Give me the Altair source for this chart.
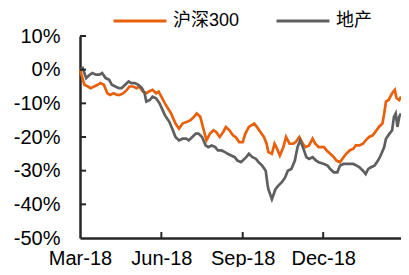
import altair as alt
import pandas as pd

# Days since 2018-03-01 and cumulative returns (%)
hs300_days = [0, 5, 9, 12, 16, 20, 23, 27, 31, 34, 38, 42, 45, 49, 53, 56, 60, 64, 67, 71,
              75, 78, 82, 86, 89, 96, 103, 108, 112, 116, 121, 125, 129, 132, 136, 140, 143,
              147, 151, 154, 158, 162, 165, 169, 173, 176, 180, 184, 187, 191, 197, 200, 204,
              208, 211, 213, 217, 220, 222, 226, 230, 233, 237, 241, 244, 248, 252, 255, 259,
              263, 266, 270, 276, 279, 283, 287, 290, 294, 298, 301, 305, 309, 312, 316, 320,
              323, 327, 331, 334, 338, 342, 344, 346, 349, 353, 356, 358, 361, 363]
hs300_vals = [0, -4.5, -5, -5.5, -5, -4.5, -4, -4.5, -7, -7.5, -7, -7.5, -7.5, -7, -6, -5, -5,
              -5.5, -5, -6.5, -7, -6.5, -6, -7, -6.5, -10, -13, -16, -17.5, -16, -15.5, -15,
              -14, -13, -14, -18, -21, -19, -18, -18.5, -20, -18.5, -17, -18, -19.5, -20,
              -21.5, -21.5, -19, -17, -16, -17, -18.5, -20, -22, -24.5, -25, -22, -23, -25.5,
              -23, -20, -22, -22, -21.5, -20, -22, -23, -22.5, -20.5, -22, -23, -23, -24, -25,
              -26, -27, -27.5, -26, -25, -24, -23.5, -22.5, -22.5, -22, -21, -20, -19.5, -18.5,
              -17, -16, -13, -9.5, -9, -7, -6, -8.5, -9, -8]

dc_days = [0, 3, 7, 11, 14, 18, 22, 25, 29, 33, 36, 40, 44, 47, 51, 55, 58, 62, 66, 70, 73,
           75, 79, 82, 86, 90, 96, 101, 105, 108, 112, 116, 120, 123, 127, 131, 134, 138, 142,
           145, 149, 153, 156, 160, 164, 167, 171, 175, 178, 182, 188, 191, 195, 199, 202, 206,
           210, 212, 213, 217, 219, 221, 224, 228, 232, 235, 239, 243, 246, 249, 252, 256, 259,
           263, 267, 270, 276, 280, 283, 287, 291, 294, 298, 302, 305, 309, 313, 316, 320, 323,
           326, 329, 333, 337, 340, 344, 346, 350, 353, 355, 357, 359, 361, 363]
dc_vals = [0, 0.5, -2.5, -1.5, -1, -1.5, -1.5, -1, -2.5, -3, -4.5, -5, -5.5, -5.5, -4.5, -3.5,
           -4, -4, -4.5, -5.5, -7, -9.5, -9, -8, -8.5, -10, -13.5, -15.5, -18, -20, -21, -20.5,
           -20.5, -21, -20, -19, -19, -20, -22.5, -23, -22.5, -23, -24, -24, -24.5, -25, -25.5,
           -26, -27, -27.5, -26, -25, -26, -26.5, -27.5, -28.5, -30, -34, -35.5, -38.5, -37,
           -35.5, -34.5, -33.5, -32, -30, -29.5, -27, -23, -21, -23, -26, -26.5, -26, -27,
           -27.5, -28, -28.5, -29.5, -30.5, -30.5, -28.5, -28, -28, -28, -28, -28.5, -29, -30,
           -31, -29.5, -29, -28.5, -27, -25.5, -23, -20.5, -19, -18, -14, -13, -17, -14, -13]

series_names = ["沪深300", "地产"]
series_colors = ["#E8600C", "#5F5F5F"]
y_ticks = [10, 0, -10, -20, -30, -40, -50]
x_tick_dates = ["2018-06-01", "2018-09-01", "2018-12-01"]

start = pd.Timestamp("2018-03-01")
frames = []
for name, days, vals in [(series_names[0], hs300_days, hs300_vals),
                         (series_names[1], dc_days, dc_vals)]:
    frames.append(pd.DataFrame({
        "date": [start + pd.Timedelta(days=d) for d in days],
        "value": vals,
        "series": name,
    }))
df = pd.concat(frames, ignore_index=True)

yt = pd.DataFrame({"v": [v for v in y_ticks if v > -50]})
xt = pd.DataFrame({"d": pd.to_datetime(x_tick_dates)})

FONT = "Liberation Sans, Arial, Noto Sans CJK SC"
W = 321
H = 202

x_scale = alt.Scale(domain=[alt.DateTime(year=2018, month=3, date=1),
                            alt.DateTime(year=2019, month=2, date=27)], nice=False)
y_scale = alt.Scale(domain=[-50, 10], nice=False)

x_axis = alt.Axis(values=[alt.DateTime(year=2018, month=3, date=1),
                          alt.DateTime(year=2018, month=6, date=1),
                          alt.DateTime(year=2018, month=9, date=1),
                          alt.DateTime(year=2018, month=12, date=1)],
                  format="%b-%y", labelFlush=False, labelOverlap=False,
                  labelPadding=10, ticks=False, title=None)
y_axis = alt.Axis(values=y_ticks, labelExpr="datum.value + '%'",
                  labelOverlap=False, labelFlush=False, labelBound=False,
                  labelPadding=20, ticks=False, title=None)

lines = alt.Chart(df).mark_line(strokeWidth=2.7).encode(
    x=alt.X("date:T", scale=x_scale, axis=x_axis),
    y=alt.Y("value:Q", scale=y_scale, axis=y_axis),
    color=alt.Color("series:N", sort=series_names,
                    scale=alt.Scale(domain=series_names, range=series_colors),
                    legend=alt.Legend(orient="none", legendX=32, legendY=-43,
                                      direction="horizontal", title=None,
                                      symbolType="stroke", symbolSize=2800,
                                      symbolStrokeWidth=3, labelFontSize=18,
                                      labelFont=FONT, labelColor="#000000",
                                      labelOffset=5, columnPadding=30)),
)

ytick_layer = alt.Chart(yt).mark_rule(color="#262626", strokeWidth=2).encode(
    y=alt.Y("v:Q", scale=y_scale, axis=y_axis),
    x=alt.value(0),
    x2=alt.value(6),
)

xtick_layer = alt.Chart(xt).mark_rule(color="#262626", strokeWidth=2).encode(
    x=alt.X("d:T", scale=x_scale, axis=x_axis),
    y=alt.value(H),
    y2=alt.value(H - 6),
)

chart = alt.layer(lines, ytick_layer, xtick_layer).properties(
    width=W, height=H,
    autosize=alt.AutoSizeParams(type="none"),
    padding={"left": 72, "top": 28, "right": 0, "bottom": 29},
).configure_view(stroke=None).configure_axis(
    grid=False, domainColor="#262626", domainWidth=2.5,
    labelFont=FONT, labelFontSize=20, labelColor="#000000",
)

chart.save("out.html", embed_options={"renderer": "svg", "actions": False})
